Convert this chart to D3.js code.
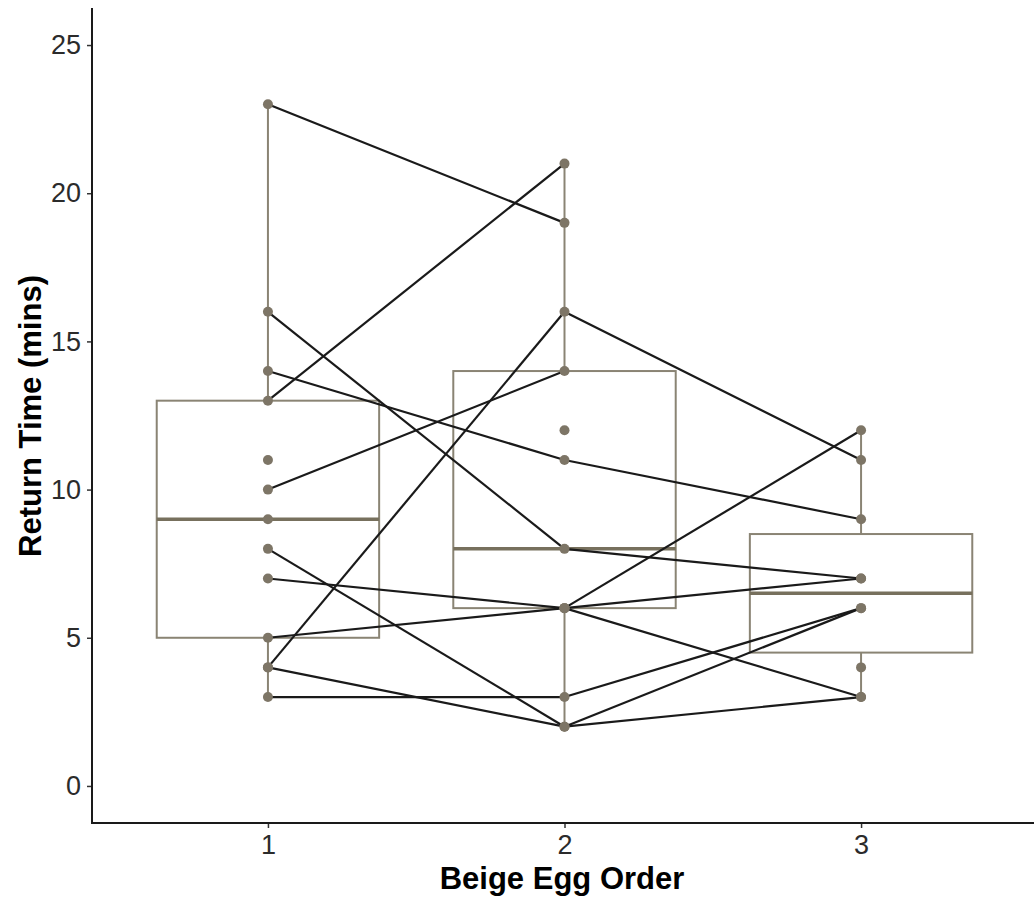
<!DOCTYPE html>
<html>
<head>
<meta charset="utf-8">
<script src="https://cdn.jsdelivr.net/npm/d3@7"></script>
<style>
  body { margin: 0; background: #fff; }
  text { font-family: "Liberation Sans", Arial, Helvetica, sans-serif; }
</style>
</head>
<body>
<div id="chart"></div>
<script>

// egg order categories
var eggOrders = [1, 2, 3];

// return times per bird, one slot per bird (null = no egg at that order)
var egg1 = [23, 16, 14, 13, 11, 10, 9, 8, 7, 5, 4, 4, 3, null, null, null];
var egg2 = [19, 8, 11, 21, null, 14, null, 2, 6, 6, 16, 2, 3, 12, 6, null];
var egg3 = [null, 7, 9, null, null, null, null, 3, 7, 3, 11, 6, 6, null, 12, 4];

var yTicks = [0, 5, 10, 15, 20, 25];

var W = 1034, H = 900;
var boxCol = "#8a8474", medCol = "#77705d", ptCol = "#7d7566";

var svg = d3.select("#chart").append("svg")
    .attr("width", W)
    .attr("height", H);

var x = d3.scaleLinear().domain([0.4, 3.6]).range([90, 1039]);
var y = d3.scaleLinear().domain([-1.25, 26.25]).range([823, 8]);

var series = [egg1, egg2, egg3];

// box stats, same quantile rule as R (type 7)
function boxStats(vals){
  var v = vals.filter(function(d){ return d != null; }).sort(d3.ascending);
  var q1 = d3.quantile(v, 0.25), med = d3.quantile(v, 0.5), q3 = d3.quantile(v, 0.75);
  var iqr = q3 - q1;
  var lo = d3.min(v.filter(function(d){ return d >= q1 - 1.5 * iqr; }));
  var hi = d3.max(v.filter(function(d){ return d <= q3 + 1.5 * iqr; }));
  return {q1: q1, med: med, q3: q3, lo: lo, hi: hi};
}

var plot = svg.append("g");

// ****** boxes ******
var bw = x(1.375) - x(1);
eggOrders.forEach(function(o, i){
  var s = boxStats(series[i]);
  var cx = x(o);
  var g = plot.append("g").attr("class", "box");
  g.append("line")
    .attr("x1", cx).attr("x2", cx)
    .attr("y1", y(s.hi)).attr("y2", y(s.q3))
    .attr("stroke", boxCol).attr("stroke-width", 2);
  g.append("line")
    .attr("x1", cx).attr("x2", cx)
    .attr("y1", y(s.q1)).attr("y2", y(s.lo))
    .attr("stroke", boxCol).attr("stroke-width", 2);
  g.append("rect")
    .attr("x", cx - bw).attr("width", bw * 2)
    .attr("y", y(s.q3)).attr("height", y(s.q1) - y(s.q3))
    .attr("fill", "none")
    .attr("stroke", boxCol).attr("stroke-width", 2);
  g.append("line")
    .attr("x1", cx - bw).attr("x2", cx + bw)
    .attr("y1", y(s.med)).attr("y2", y(s.med))
    .attr("stroke", medCol).attr("stroke-width", 3.5);
});

// ****** bird lines ******
var segs = [];
for (var k = 0; k < egg1.length; k++){
  for (var j = 0; j < 2; j++){
    var a = series[j][k], b = series[j + 1][k];
    if (a != null && b != null) segs.push({x0: eggOrders[j], y0: a, x1: eggOrders[j + 1], y1: b});
  }
}
plot.selectAll("line.bird").data(segs).enter().append("line")
  .attr("class", "bird")
  .attr("x1", function(d){ return x(d.x0); })
  .attr("y1", function(d){ return y(d.y0); })
  .attr("x2", function(d){ return x(d.x1); })
  .attr("y2", function(d){ return y(d.y1); })
  .attr("stroke", "#1a1a1a")
  .attr("stroke-width", 2.2);

// ****** points ******
var pts = [];
series.forEach(function(s, i){
  s.forEach(function(v){ if (v != null) pts.push({o: eggOrders[i], v: v}); });
});
plot.selectAll("circle.pt").data(pts).enter().append("circle")
  .attr("class", "pt")
  .attr("cx", function(d){ return x(d.o); })
  .attr("cy", function(d){ return y(d.v); })
  .attr("r", 5)
  .attr("fill", ptCol);

// ****** axes ******
var yAxis = svg.append("g")
  .attr("transform", "translate(92,0)")
  .call(d3.axisLeft(y).tickValues(yTicks).tickSize(5).tickPadding(6));
var xAxis = svg.append("g")
  .attr("transform", "translate(0,823)")
  .call(d3.axisBottom(x).tickValues(eggOrders).tickSize(5).tickPadding(7).tickFormat(d3.format("d")));

[yAxis, xAxis].forEach(function(ax){
  ax.select(".domain").remove();
  ax.selectAll(".tick line").attr("stroke", "#333").attr("stroke-width", 1.5);
  ax.selectAll(".tick text")
    .attr("fill", "#2b2b2b")
    .style("font-size", "27px")
    .style("font-family", "'Liberation Sans', Arial, sans-serif");
});

svg.append("line")
  .attr("x1", 92).attr("x2", 92).attr("y1", 8).attr("y2", 824)
  .attr("stroke", "#1a1a1a").attr("stroke-width", 2);
svg.append("line")
  .attr("x1", 91).attr("x2", W).attr("y1", 823).attr("y2", 823)
  .attr("stroke", "#1a1a1a").attr("stroke-width", 2);

// axis titles
svg.append("text")
  .attr("x", 562).attr("y", 889)
  .attr("text-anchor", "middle")
  .style("font-size", "31px").style("font-weight", "bold")
  .text("Beige Egg Order");

svg.append("text")
  .attr("transform", "translate(41,416) rotate(-90)")
  .attr("text-anchor", "middle")
  .style("font-size", "31px").style("font-weight", "bold")
  .text("Return Time (mins)");

</script>
</body>
</html>
